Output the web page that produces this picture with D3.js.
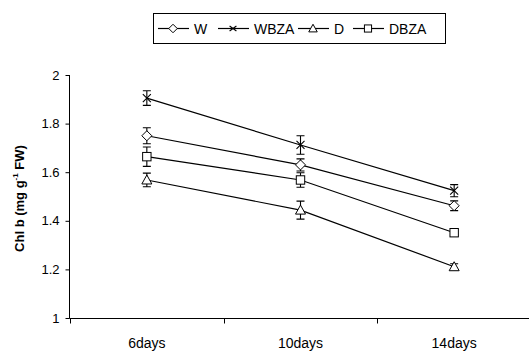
<!DOCTYPE html>
<html>
<head>
<meta charset="utf-8">
<script src="https://cdn.jsdelivr.net/npm/d3@7"></script>
<style>
  body { margin: 0; background: #fff; }
  svg { font-family: Arial, "Liberation Sans", Helvetica, sans-serif; }
</style>
</head>
<body>
<div id="chart"></div>
<script>
var days = ["6days", "10days", "14days"];
var seriesNames = ["W", "WBZA", "D", "DBZA"];
var valW = [1.75, 1.63, 1.462];
var errW = [0.033, 0.025, 0.02];
var valWBZA = [1.905, 1.712, 1.524];
var errWBZA = [0.03, 0.038, 0.025];
var valD = [1.568, 1.444, 1.211];
var errD = [0.028, 0.037, 0.012];
var valDBZA = [1.664, 1.568, 1.351];
var errDBZA = [0.04, 0.03, 0.012];
var yTicks = [1, 1.2, 1.4, 1.6, 1.8, 2];

var series = [
  { name: "W", vals: valW, errs: errW, marker: "diamond" },
  { name: "WBZA", vals: valWBZA, errs: errWBZA, marker: "cross" },
  { name: "D", vals: valD, errs: errD, marker: "triangle" },
  { name: "DBZA", vals: valDBZA, errs: errDBZA, marker: "square" }
];

var svgWidth = 529;
var svgHeight = 353;

var svg = d3.select("#chart")
  .append("svg")
  .attr("width", svgWidth)
  .attr("height", svgHeight);

var x = d3.scaleBand()
  .domain(days)
  .range([70, 531])
  .paddingInner(0)
  .paddingOuter(0);

var y = d3.scaleLinear()
  .domain([1, 2])
  .range([318, 75]);

// marker drawing, k scales the size (legend uses smaller ones)
function drawMarker(g, type, cx, cy, k) {
  k = k || 1;
  if (type === "diamond") {
    var s = 5 * k;
    g.append("path")
      .attr("d", `M${cx},${cy - s}L${cx + s},${cy}L${cx},${cy + s}L${cx - s},${cy}Z`)
      .attr("fill", "#fff").attr("stroke", "#000").attr("stroke-width", 1);
  } else if (type === "cross") {
    var c = 4 * k, cv = 4 * k * (k < 1 ? 0.75 : 1);
    g.append("path")
      .attr("d", `M${cx - c},${cy - cv}L${cx + c},${cy + cv}M${cx - c},${cy + cv}L${cx + c},${cy - cv}`)
      .attr("stroke", "#000").attr("stroke-width", 1.1);
  } else if (type === "triangle") {
    var t = 5 * k;
    g.append("path")
      .attr("d", `M${cx},${cy - t}L${cx + t},${cy + t * 0.8}L${cx - t},${cy + t * 0.8}Z`)
      .attr("fill", "#fff").attr("stroke", "#000").attr("stroke-width", 1);
  } else if (type === "square") {
    var q = 4.2 * k;
    g.append("rect")
      .attr("x", cx - q).attr("y", cy - q)
      .attr("width", q * 2).attr("height", q * 2)
      .attr("fill", "#fff").attr("stroke", "#000").attr("stroke-width", 1);
  }
}

// axes
var leftAxis = d3.axisLeft(y)
  .tickValues(yTicks)
  .tickFormat(d => d3.format("")(d))
  .tickSize(4)
  .tickPadding(6);

var yAxis = svg.append("g")
  .attr("transform", "translate(69.5,0)")
  .call(leftAxis);
yAxis.selectAll("text").attr("font-size", 13).attr("fill", "#000").attr("font-family", "Arial, 'Liberation Sans', sans-serif");
yAxis.selectAll("line").attr("stroke", "#000");
yAxis.select(".domain").attr("stroke", "#000").attr("d", `M0,${y(2)}V${y(1) + 0.5}`);

var bottomAxis = d3.axisBottom(x)
  .tickSize(0)
  .tickPadding(20);

var xAxis = svg.append("g")
  .attr("transform", "translate(0,318.5)")
  .call(bottomAxis);
xAxis.selectAll("text").attr("font-size", 14).attr("fill", "#000").attr("font-family", "Arial, 'Liberation Sans', sans-serif");
xAxis.select(".domain").attr("stroke", "#000").attr("d", `M69.5,0H${svgWidth}`);

// category boundary ticks
xAxis.selectAll(".bound")
  .data(days)
  .enter()
  .append("line")
  .attr("class", "bound")
  .attr("x1", d => Math.round(x(d)) + 0.5)
  .attr("x2", d => Math.round(x(d)) + 0.5)
  .attr("y1", 0)
  .attr("y2", 5)
  .attr("stroke", "#000");

// y label
svg.append("text")
  .attr("transform", `translate(24,${(y(1) + y(2)) / 2 + 2}) rotate(-90)`)
  .attr("text-anchor", "middle")
  .attr("font-size", 13)
  .attr("font-weight", "bold")
  .attr("fill", "#000")
  .html('Chl b (mg g<tspan dy="-6" font-size="8">-1</tspan><tspan dy="6"> FW)</tspan>');

var cx = d => x(d) + x.bandwidth() / 2;

var line = d3.line()
  .x(d => cx(d.day))
  .y(d => y(d.v));

series.forEach(function(s) {
  var pts = days.map((d, i) => ({ day: d, v: s.vals[i], e: s.errs[i] }));
  var g = svg.append("g");
  g.append("path")
    .datum(pts)
    .attr("d", line)
    .attr("fill", "none")
    .attr("stroke", "#000")
    .attr("stroke-width", 1.2);
  pts.forEach(function(p) {
    var px = cx(p.day);
    var y1 = y(p.v + p.e), y2 = y(p.v - p.e);
    g.append("path")
      .attr("d", `M${px},${y1}V${y2}M${px - 4},${y1}H${px + 4}M${px - 4},${y2}H${px + 4}`)
      .attr("stroke", "#000")
      .attr("stroke-width", 1.1)
      .attr("fill", "none");
    drawMarker(g, s.marker, px, y(p.v));
  });
});

// legend
var legend = svg.append("g");
legend.append("rect")
  .attr("x", 153.5).attr("y", 13.5)
  .attr("width", 292).attr("height", 30)
  .attr("fill", "#fff").attr("stroke", "#000");

var legX = [158, 218, 298, 353];
series.forEach(function(s, i) {
  var lx = legX[i];
  var ly = 28.5;
  legend.append("line")
    .attr("x1", lx).attr("x2", lx + 31)
    .attr("y1", ly).attr("y2", ly)
    .attr("stroke", "#000").attr("stroke-width", 1.2);
  drawMarker(legend, s.marker, lx + 15, ly, 0.85);
  legend.append("text")
    .attr("x", lx + 36).attr("y", ly + 5)
    .attr("font-size", 14)
    .attr("fill", "#000")
    .text(s.name);
});
</script>
</body>
</html>
